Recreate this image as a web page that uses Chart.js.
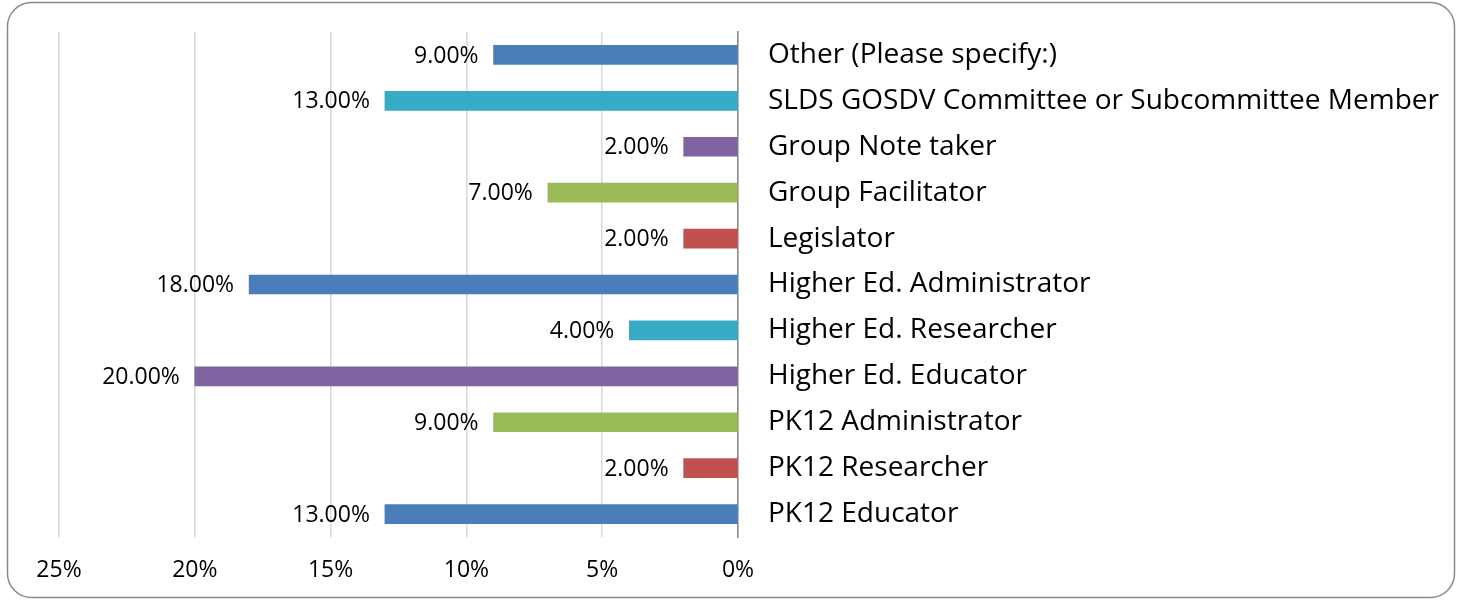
<!DOCTYPE html>
<html>
<head>
<meta charset="utf-8">
<script src="https://cdn.jsdelivr.net/npm/chart.js@4.4.1/dist/chart.umd.min.js"></script>
<style>
  html, body { margin: 0; padding: 0; background: #fff; }
  #wrap { position: relative; width: 1462px; height: 601px; }
</style>
</head>
<body>
<div id="wrap"><canvas id="myChart" width="1462" height="601"></canvas></div>
<script>
// categories, top to bottom
const categories = [
  'Other (Please specify:)',
  'SLDS GOSDV Committee or Subcommittee Member',
  'Group Note taker',
  'Group Facilitator',
  'Legislator',
  'Higher Ed. Administrator',
  'Higher Ed. Researcher',
  'Higher Ed. Educator',
  'PK12 Administrator',
  'PK12 Researcher',
  'PK12 Educator'
];
const shares = [0.09, 0.13, 0.02, 0.07, 0.02, 0.18, 0.04, 0.20, 0.09, 0.02, 0.13];
const xTicks = [0, 0.05, 0.10, 0.15, 0.20, 0.25];

const blue = 'rgb(74,126,187)';
const teal = 'rgb(55,171,197)';
const purple = 'rgb(128,100,162)';
const green = 'rgb(155,187,89)';
const red = 'rgb(192,80,77)';
const barColors = [blue, teal, purple, green, red, blue, teal, purple, green, red, blue];

const FONT = '"Open Sans", Lato, sans-serif';

// frame around the chart
const framePlugin = {
  id: 'frame',
  beforeDraw(chart) {
    const c = chart.ctx;
    c.save();
    c.strokeStyle = '#8a8a8a';
    c.lineWidth = 1.5;
    c.beginPath();
    c.roundRect(7.5, 2.5, 1447, 595, 24);
    c.stroke();
    c.restore();
  }
};

// value labels left of each bar end
const valueLabels = {
  id: 'valueLabels',
  afterDatasetsDraw(chart) {
    const c = chart.ctx;
    const meta = chart.getDatasetMeta(0);
    c.save();
    c.font = '23px ' + FONT;
    c.fillStyle = '#000';
    c.textAlign = 'right';
    c.textBaseline = 'middle';
    meta.data.forEach((bar, i) => {
      const v = chart.data.datasets[0].data[i];
      c.fillText((v * 100).toFixed(2) + '%', bar.x - 15, bar.y + 1);
    });
    c.restore();
  }
};

let ctx = document.getElementById('myChart').getContext('2d');
let chart = new Chart(ctx, {
  type: 'bar',
  data: {
    labels: categories,
    datasets: [{
      data: shares,
      backgroundColor: barColors,
      borderWidth: 0,
      barThickness: 19
    }]
  },
  options: {
    indexAxis: 'y',
    responsive: false,
    animation: false,
    layout: { padding: { left: 59, right: 0, top: 32, bottom: 0 } },
    plugins: {
      legend: { display: false },
      tooltip: { enabled: false }
    },
    scales: {
      x: {
        reverse: true,
        min: 0,
        max: 0.25,
        afterBuildTicks(scale) {
          scale.ticks = xTicks.map(v => ({ value: v }));
        },
        afterFit(scale) { scale.height = 64; },
        grid: { color: '#d9d9d9', lineWidth: 1.5, drawTicks: false },
        border: { display: false },
        ticks: {
          padding: 20,
          color: '#000',
          font: { family: FONT, size: 23 },
          maxRotation: 0,
          callback: v => Math.round(v * 100) + '%'
        }
      },
      y: {
        position: 'right',
        afterFit(scale) {
          scale.width = 724;
          scale.paddingTop = 0;
          scale.paddingBottom = 0;
        },
        grid: { display: false, drawTicks: false },
        border: { display: true, color: '#888', width: 1.5 },
        ticks: {
          padding: 30,
          color: '#000',
          font: { family: FONT, size: 28 },
          crossAlign: 'near'
        }
      }
    }
  },
  plugins: [framePlugin, valueLabels]
});
</script>
</body>
</html>
